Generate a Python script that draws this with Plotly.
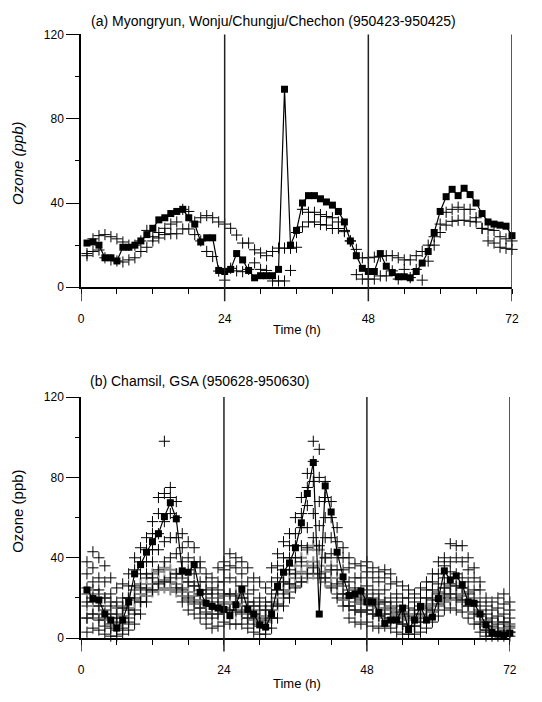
import plotly.graph_objects as go

hours = list(range(1, 73))

# ---- Panel (a): Myongryun (squares) and Wonju/Chungju/Chechon (crosses) ----
sq_a = [21, 21.5, 20, 14, 14, 12.5, 19, 19, 20, 22,
        25, 28, 32, 33, 35, 36, 37, 33, 30, 21.5,
        23.5, 23.5, 8, 7.5, 8.5, 16, 13, 8, 4.5, 5.5,
        5.5, 5.5, 8.5, 94, 20, 27, 40, 43.5, 43.5, 42,
        40.5, 39, 36, 31, 22, 15, 9, 7.5, 7.5, 16,
        10, 7, 5, 5, 4.5, 7.5, 11.5, 17, 26, 36,
        43, 46.5, 43.5, 47, 44, 40, 35, 31, 30, 29.5,
        29, 24.5]
cr_a1 = [16, 23, 24.5, 25, 24, 23, 21.5, 20, 20, 22,
         27, 24, 26, 28, 30, 31, 37, 36, 31, 33,
         34, 33, 31, 30, 28, 24.8, 21, 21, 17.8, 16.3,
         15, 17, 18.6, 18.6, 18.5, 26, 37, 35.6, 35.6, 34.5,
         33.6, 33, 31, 27, 22, 18, 14, 14, 14.3, 14.7,
         15, 15, 14, 13, 13, 15, 17, 20, 24, 30,
         35.6, 37, 38, 37, 37, 33, 28, 27.5, 27, 24,
         23, 22]
cr_a2 = [15, 17, 17.7, 14, 13, 12.5, 12, 13, 14, 17,
         19, 22, 23.4, 25, 25.4, 25.4, 27.7, 27.7, 25, 22,
         17, 14.6, 7.7, 3.4, 9, 7.8, 7.4, 8.5, 11.6, 8.5,
         8, 3, 3, 3, 8, 19, 28.7, 31, 31, 29.8,
         29.5, 27.9, 27.9, 26.4, 22, 6, 3.9, 3.9, 3.9, 5.4,
         5.4, 7.8, 3.9, 8.5, 4.6, 8.5, 3.4, 12.4, 20, 26,
         29.5, 31.3, 31.8, 31.8, 31.3, 31, 27.9, 22, 21, 19,
         18.5, 18]

# ---- Panel (b): Chamsil (squares) and GSA stations (crosses) ----
sq_b = [24, 19.7, 19, 12, 9, 5, 9, 18, 32, 36.6,
        42.8, 48, 52, 60.5, 67.4, 59.4, 33.5, 32.8, 36.6, 22.8,
        17.4, 15.8, 15, 14.3, 11.2, 16.6, 24.3, 14.3, 12, 6.6,
        5.5, 12, 25.8, 32.8, 37.4, 45, 57.4, 72, 87.4, 12,
        75.8, 62.8, 42.8, 30.5, 21.2, 22, 23.5, 18, 18, 12.8,
        7.4, 9, 9, 15, 4.3, 9, 15.8, 9, 10.5, 19.7,
        33.5, 29, 31, 26.6, 18, 17.4, 12, 6.6, 2.8, 2,
        1.5, 2.5]
cr_b1 = [38, 43, 40, 36, 30, 25, 27, 32, 40, 45,
         50, 58, 70, 98, 75, 68, 52, 48, 45, 38,
         32, 30, 35, 38, 42, 40, 38, 35, 30, 28,
         25, 35, 42, 48, 52, 60, 70, 82, 98, 94,
         78, 68, 55, 45, 40, 37, 36, 38, 35, 33,
         34, 32, 28, 26, 24, 22, 25, 28, 32, 38,
         40, 47, 46, 46, 40, 35, 28, 20, 18, 20,
         22, 18]
cr_b2 = [32, 35, 30, 28, 22, 18, 20, 26, 34, 38,
         44, 52, 62, 72, 70, 60, 45, 40, 38, 35,
         28, 25, 28, 34, 36, 35, 32, 28, 24, 20,
         18, 28, 36, 40, 46, 52, 62, 75, 88, 80,
         70, 60, 48, 40, 35, 30, 30, 33, 30, 28,
         30, 27, 22, 20, 20, 18, 20, 24, 28, 32,
         36, 38, 40, 38, 34, 30, 24, 16, 14, 15,
         17, 14]
cr_b3 = [25, 28, 24, 20, 16, 12, 15, 20, 26, 32,
         38, 44, 52, 58, 62, 50, 38, 34, 32, 28,
         24, 22, 24, 28, 30, 28, 26, 22, 18, 16,
         14, 22, 30, 34, 40, 46, 55, 66, 78, 68,
         60, 50, 40, 34, 28, 25, 24, 26, 24, 22,
         24, 20, 18, 16, 15, 14, 16, 20, 24, 27,
         30, 33, 32, 30, 28, 24, 18, 12, 10, 11,
         12, 10]
cr_b4 = [18, 20, 16, 12, 10, 8, 10, 14, 20, 25,
         32, 38, 44, 48, 50, 42, 32, 28, 26, 22,
         18, 16, 18, 22, 22, 21, 20, 16, 12, 10,
         9, 16, 24, 28, 34, 40, 46, 55, 62, 56,
         50, 42, 34, 28, 22, 20, 19, 20, 18, 17,
         18, 15, 13, 12, 11, 10, 12, 15, 19, 22,
         25, 27, 26, 25, 22, 18, 12, 8, 6, 7,
         8, 6]
cr_b5 = [10, 12, 9, 6, 5, 4, 5, 8, 12, 18,
         24, 30, 34, 38, 40, 32, 24, 20, 18, 15,
         12, 10, 12, 15, 14, 14, 13, 10, 7, 6,
         5, 10, 17, 22, 27, 32, 38, 45, 50, 46,
         40, 34, 27, 22, 16, 14, 13, 14, 12, 11,
         12, 10, 8, 7, 6, 6, 8, 10, 14, 17,
         20, 22, 20, 19, 16, 12, 7, 4, 3, 3,
         4, 3]
cr_b6 = [3, 5, 4, 2, 1, 1, 2, 4, 7, 12,
         18, 24, 27, 28, 30, 25, 18, 14, 12, 10,
         7, 5, 6, 8, 7, 7, 7, 5, 3, 2,
         2, 5, 10, 16, 20, 25, 28, 32, 35, 32,
         30, 25, 20, 16, 10, 8, 7, 8, 6, 5,
         6, 5, 3, 2, 2, 2, 3, 5, 8, 11,
         14, 15, 14, 13, 10, 7, 3, 1, 1, 1,
         1, 1]
gr_b1 = [22, 24, 22, 20, 18, 15, 16, 20, 24, 27,
         30, 32, 33, 35, 34, 32, 30, 28, 26, 24,
         22, 20, 20, 21, 22, 22, 20, 18, 16, 14,
         14, 18, 24, 28, 32, 36, 40, 44, 46, 44,
         40, 36, 30, 26, 24, 22, 21, 22, 20, 19,
         18, 16, 14, 13, 12, 12, 14, 17, 20, 23,
         25, 26, 26, 25, 23, 20, 14, 9, 8, 8,
         8, 7]
gr_b2 = [16, 18, 16, 14, 12, 10, 11, 15, 19, 22,
         25, 27, 28, 29, 28, 27, 25, 23, 21, 19,
         17, 16, 16, 17, 18, 17, 16, 14, 12, 11,
         11, 14, 20, 24, 27, 30, 33, 36, 38, 36,
         33, 30, 26, 22, 20, 18, 17, 18, 16, 15,
         14, 12, 11, 10, 9, 9, 11, 14, 16, 19,
         21, 22, 22, 21, 19, 16, 11, 6, 5, 5,
         5, 5]
gr_b3 = [10, 12, 10, 9, 7, 6, 7, 10, 14, 18,
         21, 23, 24, 25, 24, 23, 21, 19, 17, 15,
         13, 12, 12, 13, 14, 13, 12, 10, 9, 8,
         8, 10, 16, 20, 23, 26, 28, 30, 32, 30,
         28, 26, 22, 19, 16, 14, 13, 14, 12, 11,
         10, 9, 8, 7, 6, 6, 8, 11, 13, 16,
         18, 19, 19, 18, 16, 13, 8, 4, 3, 3,
         3, 3]

x_ticks = [0, 6, 12, 18, 24, 30, 36, 42, 48, 54, 60, 66, 72]
x_ticktext = ["0", "", "", "", "24", "", "", "", "48", "", "", "", "72"]
y_ticks = [0, 40, 80, 120]
y_minor = [20, 60, 100]

title_a = "(a) Myongryun, Wonju/Chungju/Chechon (950423-950425)"
title_b = "(b) Chamsil, GSA (950628-950630)"

FONT = "Arial, Liberation Sans, Helvetica, sans-serif"

fig = go.Figure()

def cross(x, y, xa, ya, color="black", width=1, size=8):
    return go.Scatter(x=x, y=y, mode="markers", xaxis=xa, yaxis=ya,
                      marker=dict(symbol="cross-thin", size=size,
                                  line=dict(color=color, width=width)),
                      cliponaxis=False, showlegend=False, hoverinfo="x+y")

def squares(x, y, xa, ya):
    return go.Scatter(x=x, y=y, mode="lines+markers", xaxis=xa, yaxis=ya,
                      line=dict(color="black", width=1.2),
                      marker=dict(symbol="square", size=7, color="black"),
                      cliponaxis=False, showlegend=False)

# panel a
fig.add_trace(cross(hours, cr_a1, "x", "y"))
fig.add_trace(cross(hours, cr_a2, "x", "y"))
fig.add_trace(squares(hours, sq_a, "x", "y"))

# panel b
for g in (gr_b1, gr_b2, gr_b3):
    fig.add_trace(cross(hours, g, "x2", "y2", color="#8a8a8a", width=2, size=8))
for b in (cr_b1, cr_b2, cr_b3, cr_b4, cr_b5, cr_b6):
    fig.add_trace(cross(hours, b, "x2", "y2"))
fig.add_trace(squares(hours, sq_b, "x2", "y2"))

xaxis_common = dict(range=[0, 72], tickvals=x_ticks, ticktext=x_ticktext,
                    ticks="outside", ticklen=5, tickwidth=1, tickcolor="black",
                    showline=True, linecolor="black", linewidth=1.5,
                    showgrid=False, zeroline=False, ticklabelstandoff=15,
                    tickfont=dict(family=FONT, size=12, color="black"))
yaxis_common = dict(range=[0, 120], tickvals=y_ticks, ticks="outside",
                    ticklen=13, tickwidth=1, tickcolor="black",
                    showline=True, linecolor="black", linewidth=1.5,
                    showgrid=False, zeroline=False,
                    minor=dict(tickvals=y_minor, ticks="outside", ticklen=4,
                               tickcolor="black", tickwidth=1),
                    tickfont=dict(family=FONT, size=12, color="black"))

fig.update_layout(
    width=542, height=702,
    margin=dict(l=81, r=30, t=0, b=0),
    paper_bgcolor="white", plot_bgcolor="white",
    xaxis=dict(domain=[0, 1], anchor="y", **xaxis_common),
    yaxis=dict(domain=[1 - 286 / 702, 1 - 28 / 702], anchor="x", **yaxis_common),
    xaxis2=dict(domain=[0, 0.995], anchor="y2", **xaxis_common),
    yaxis2=dict(domain=[1 - 644 / 702, 1 - 398 / 702], anchor="x2", **yaxis_common),
)

shapes = []
for xr, yr in (("x", "y"), ("x2", "y2")):
    for xv in (24, 48, 72):
        shapes.append(dict(type="line", xref=xr, yref=yr + " domain",
                           x0=xv, x1=xv, y0=-0.055, y1=1.0,
                           line=dict(color="#222", width=1.5)))
    shapes.append(dict(type="line", xref=xr, yref=yr + " domain",
                       x0=0, x1=0, y0=-0.055, y1=0,
                       line=dict(color="#222", width=1.5)))
fig.update_layout(shapes=shapes)

ann = []
ann.append(dict(text=title_a, xref="paper", yref="paper", x=0.019, y=1 - 14 / 702,
                xanchor="left", yanchor="middle", showarrow=False,
                font=dict(family=FONT, size=14, color="black")))
ann.append(dict(text=title_b, xref="paper", yref="paper", x=0.016, y=1 - 382 / 702,
                xanchor="left", yanchor="middle", showarrow=False,
                font=dict(family=FONT, size=14, color="black")))
ann.append(dict(text="Time (h)", xref="paper", yref="paper", x=0.501, y=1 - 329 / 702,
                xanchor="center", yanchor="middle", showarrow=False,
                font=dict(family=FONT, size=13, color="black")))
ann.append(dict(text="Time (h)", xref="paper", yref="paper", x=0.501, y=1 - 690 / 702,
                xanchor="center", yanchor="middle", showarrow=False,
                font=dict(family=FONT, size=13, color="black")))
ann.append(dict(text="<i>Ozone (ppb)</i>", xref="paper", yref="paper",
                x=-0.146, y=1 - 160 / 702, textangle=-90,
                xanchor="center", yanchor="middle", showarrow=False,
                font=dict(family=FONT, size=15, color="black")))
ann.append(dict(text="Ozone (ppb)", xref="paper", yref="paper",
                x=-0.146, y=1 - 515 / 702, textangle=-90,
                xanchor="center", yanchor="middle", showarrow=False,
                font=dict(family=FONT, size=15, color="black")))
fig.update_layout(annotations=ann)

fig.write_html("out.html")
